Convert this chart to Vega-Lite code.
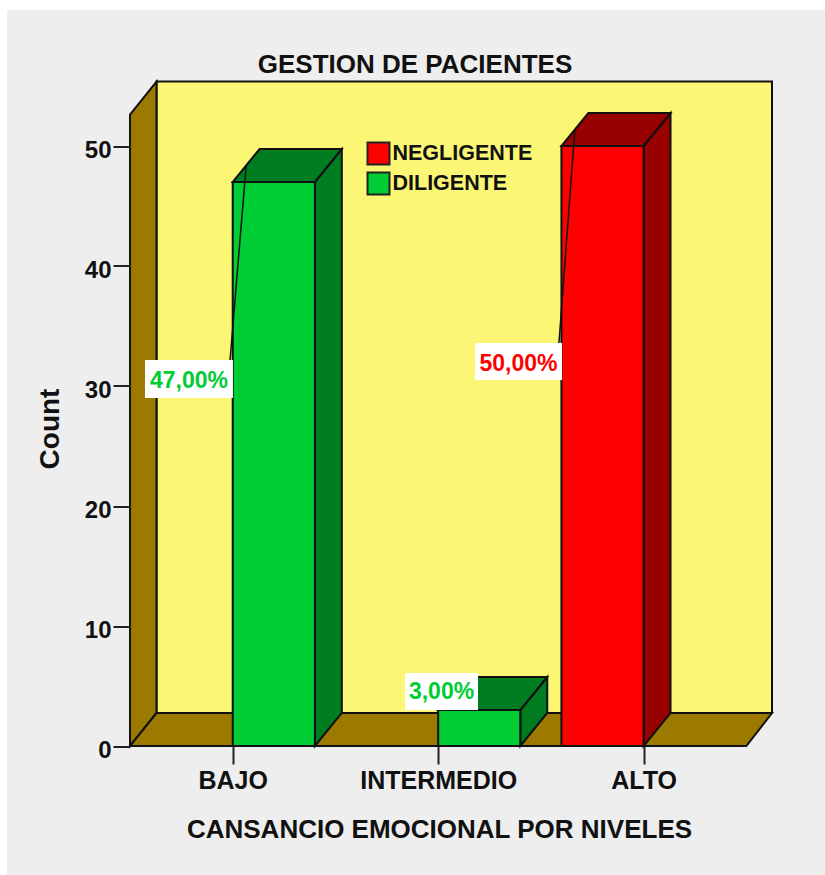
{
"$schema":"https://vega.github.io/schema/vega-lite/v6.json",
"width":642,"height":664.5,
"autosize":{"type":"none"},
"padding":{"left":130,"top":81.5,"right":53,"bottom":129},
"background":"#ffffff",
"config":{"view":{"stroke":null},"font":"Liberation Sans","axis":{"grid":false,"domain":false}},
"title":{"text":"GESTION DE PACIENTES","font":"Liberation Sans","fontSize":26,"fontWeight":"bold","color":"#111111","anchor":"middle","dx":-36,"dy":74,"offset":6},
"datasets":{"barras":[
{"nivel":"BAJO","pos":1,"grupo":"DILIGENTE","conteo":47,"etiqueta":"47,00%"},
{"nivel":"INTERMEDIO","pos":2,"grupo":"DILIGENTE","conteo":3,"etiqueta":"3,00%"},
{"nivel":"ALTO","pos":3,"grupo":"NEGLIGENTE","conteo":50,"etiqueta":"50,00%"}
],"plano":[{"plano":"escena"}]},
"layer":[
{"data":{"name":"plano"},"transform":[{"calculate":"-0.0987","as":"xa"},{"calculate":"3.883","as":"xb"},{"calculate":"61.33","as":"ya"},{"calculate":"-10.75","as":"yb"}],
 "mark":{"type":"rect","fill":"#eeeeee"},
 "encoding":{
 "x":{"field":"xa","type":"quantitative","scale":{"domain":[0.5,3.625],"nice":false,"zero":false},
   "axis":{"values":[1,2,3],"labelExpr":"{'1':'BAJO','2':'INTERMEDIO','3':'ALTO'}[datum.value]","title":"CANSANCIO EMOCIONAL POR NIVELES","domain":false,"grid":false,"zindex":1,"tickSize":18,"tickWidth":2,"tickColor":"#222222","labelFont":"Liberation Sans","labelFontWeight":"bold","labelFontSize":25,"labelColor":"#111111","labelPadding":4,"labelFlush":false,"labelOverlap":false,"titleFont":"Liberation Sans","titleFontWeight":"bold","titleFontSize":26,"titleColor":"#111111","titleX":309,"titleY":70}},
 "x2":{"field":"xb"},
 "y":{"field":"ya","type":"quantitative","scale":{"domain":[0,55.375],"nice":false,"zero":false},
   "axis":{"values":[0,10,20,30,40,50],"title":"Count","domain":false,"grid":false,"zindex":1,"tickSize":17,"tickWidth":2,"tickColor":"#222222","labelFont":"Liberation Sans","labelFontWeight":"bold","labelFontSize":24,"labelColor":"#111111","labelPadding":2,"labelOffset":4,"titleFont":"Liberation Sans","titleFontWeight":"bold","titleFontSize":28,"titleColor":"#111111","titleX":-66,"titleY":347}},
 "y2":{"field":"yb"}}},
{"data":{"name":"plano"},"transform":[{"calculate":"0.629","as":"xa"},{"calculate":"3.625","as":"xb"},{"calculate":"2.75","as":"ya"},{"calculate":"55.375","as":"yb"}],
 "mark":{"type":"rect","fill":"#fbf774","stroke":"#111111","strokeWidth":2},
 "encoding":{"x":{"field":"xa","type":"quantitative"},"x2":{"field":"xb"},"y":{"field":"ya","type":"quantitative"},"y2":{"field":"yb"}}},
{"data":{"name":"plano"},"transform":[{"calculate":"[0.5,0.629]","as":"xs"},{"calculate":"[0,2.75]","as":"lo"},{"calculate":"[52.625,55.375]","as":"hi"},{"flatten":["xs","lo","hi"]}],
 "mark":{"type":"area","orient":"vertical","fill":"#9c7a00","stroke":"#111111","strokeWidth":2},
 "encoding":{"x":{"field":"xs","type":"quantitative"},"y":{"field":"lo","type":"quantitative"},"y2":{"field":"hi"}}},
{"data":{"name":"plano"},"transform":[{"calculate":"[0.5,0.629,3.5,3.625]","as":"xs"},{"calculate":"[0,0,0,2.75]","as":"lo"},{"calculate":"[0,2.75,2.75,2.75]","as":"hi"},{"flatten":["xs","lo","hi"]}],
 "mark":{"type":"area","orient":"vertical","fill":"#9c7a00","stroke":"#111111","strokeWidth":2},
 "encoding":{"x":{"field":"xs","type":"quantitative"},"y":{"field":"lo","type":"quantitative"},"y2":{"field":"hi"}}},
{"data":{"name":"barras"},"transform":[
  {"calculate":"datum.grupo==='NEGLIGENTE'?datum.pos-0.4:datum.pos","as":"x0"},
  {"calculate":"[datum.x0+0.4,datum.x0+0.531]","as":"xs"},
  {"calculate":"[0,2.75]","as":"lo"},
  {"calculate":"[datum.conteo,datum.conteo+2.75]","as":"hi"},
  {"flatten":["xs","lo","hi"]}],
 "mark":{"type":"area","orient":"vertical","stroke":"#111111","strokeWidth":2},
 "encoding":{"x":{"field":"xs","type":"quantitative"},"y":{"field":"lo","type":"quantitative"},"y2":{"field":"hi"},"detail":{"field":"nivel","type":"nominal"},
  "fill":{"condition":{"test":"datum.grupo==='NEGLIGENTE'","value":"#990000"},"value":"#007d20"}}},
{"data":{"name":"barras"},"transform":[
  {"calculate":"datum.grupo==='NEGLIGENTE'?datum.pos-0.4:datum.pos","as":"x0"},
  {"calculate":"[datum.x0,datum.x0+0.131,datum.x0+0.4,datum.x0+0.531]","as":"xs"},
  {"calculate":"[datum.conteo,datum.conteo,datum.conteo,datum.conteo+2.75]","as":"lo"},
  {"calculate":"[datum.conteo,datum.conteo+2.75,datum.conteo+2.75,datum.conteo+2.75]","as":"hi"},
  {"flatten":["xs","lo","hi"]}],
 "mark":{"type":"area","orient":"vertical","stroke":"#111111","strokeWidth":2},
 "encoding":{"x":{"field":"xs","type":"quantitative"},"y":{"field":"lo","type":"quantitative"},"y2":{"field":"hi"},"detail":{"field":"nivel","type":"nominal"},
  "fill":{"condition":{"test":"datum.grupo==='NEGLIGENTE'","value":"#990000"},"value":"#007d20"}}},
{"data":{"name":"barras"},"transform":[
  {"calculate":"datum.grupo==='NEGLIGENTE'?datum.pos-0.4:datum.pos","as":"x0"},
  {"calculate":"datum.x0+0.4","as":"x1"},
  {"calculate":"0","as":"base"}],
 "mark":{"type":"rect","stroke":"#111111","strokeWidth":2},
 "encoding":{"x":{"field":"x0","type":"quantitative"},"x2":{"field":"x1"},"y":{"field":"base","type":"quantitative"},"y2":{"field":"conteo"},
  "color":{"field":"grupo","type":"nominal","title":null,"scale":{"domain":["NEGLIGENTE","DILIGENTE"],"range":["#ff0000","#00cc33"]},
   "legend":{"orient":"none","legendX":236.5,"legendY":60,"symbolType":"square","symbolSize":484,"symbolStrokeColor":"#222222","symbolStrokeWidth":2,"labelFont":"Liberation Sans","labelFontWeight":"bold","labelFontSize":21.5,"labelColor":"#111111","labelOffset":2,"rowPadding":0,"padding":0,"labelLimit":300}}}},
{"data":{"name":"barras"},"transform":[
  {"calculate":"datum.grupo==='NEGLIGENTE'?datum.pos-0.4:datum.pos","as":"x0"},
  {"calculate":"datum.x0+0.0655","as":"xa"},
  {"calculate":"datum.conteo+1.375","as":"ya"},
  {"calculate":"{'BAJO':0.987,'INTERMEDIO':2.0,'ALTO':2.588}[datum.nivel]","as":"xb"},
  {"calculate":"{'BAJO':32.17,'INTERMEDIO':4.5,'ALTO':33.58}[datum.nivel]","as":"yb"}],
 "mark":{"type":"rule","color":"#111111","strokeWidth":1.5},
 "encoding":{"x":{"field":"xa","type":"quantitative"},"x2":{"field":"xb"},"y":{"field":"ya","type":"quantitative"},"y2":{"field":"yb"}}},
{"data":{"name":"barras"},"transform":[
  {"calculate":"{'BAJO':0.573,'INTERMEDIO':1.839,'ALTO':2.179}[datum.nivel]","as":"xa"},
  {"calculate":"{'BAJO':1.001,'INTERMEDIO':2.194,'ALTO':2.603}[datum.nivel]","as":"xb"},
  {"calculate":"{'BAJO':29.0,'INTERMEDIO':3.0,'ALTO':30.5}[datum.nivel]","as":"ya"},
  {"calculate":"{'BAJO':32.17,'INTERMEDIO':6.08,'ALTO':33.58}[datum.nivel]","as":"yb"}],
 "mark":{"type":"rect","fill":"#ffffff"},
 "encoding":{"x":{"field":"xa","type":"quantitative"},"x2":{"field":"xb"},"y":{"field":"ya","type":"quantitative"},"y2":{"field":"yb"}}},
{"data":{"name":"barras"},"transform":[
  {"calculate":"{'BAJO':0.787,'INTERMEDIO':2.0165,'ALTO':2.391}[datum.nivel]","as":"xm"},
  {"calculate":"{'BAJO':30.4,'INTERMEDIO':4.5,'ALTO':31.85}[datum.nivel]","as":"ym"}],
 "mark":{"type":"text","font":"Liberation Sans","fontWeight":"bold","fontSize":23,"align":"center","baseline":"middle"},
 "encoding":{"x":{"field":"xm","type":"quantitative"},"y":{"field":"ym","type":"quantitative"},"text":{"field":"etiqueta","type":"nominal"},
  "color":{"field":"grupo","type":"nominal","legend":null}}}
]
}
